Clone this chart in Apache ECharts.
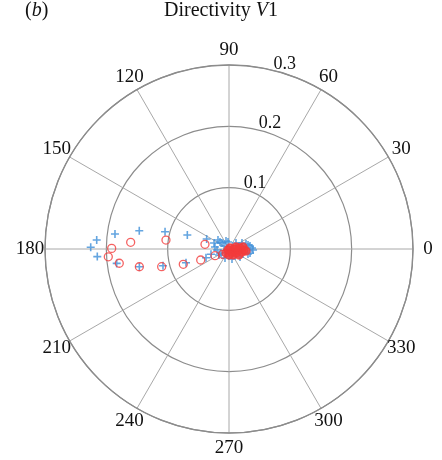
<!DOCTYPE html>
<html>
<head>
<meta charset="utf-8">
<script src="https://cdn.jsdelivr.net/npm/echarts@6/dist/echarts.min.js"></script>
<style>
  html, body { margin: 0; padding: 0; background: #fff; }
  #chart { width: 442px; height: 460px; }
</style>
</head>
<body>
<div id="chart"></div>
<script>
// Angular ticks (degrees) and radial rings
const angleTicks = [0, 30, 60, 90, 120, 150, 180, 210, 240, 270, 300, 330];
const radialTicks = [0.1, 0.2, 0.3];

// Series "+" : [radius, angle in degrees]
const plusPoints = [
  [0.2255, 179.3], [0.2162, 176.1], [0.2151, 183.3],
  [0.1875, 172.5], [0.1846, 187.3],
  [0.1493, 168.5], [0.1490, 191.2],
  [0.1080, 164.9], [0.1110, 194.2],
  [0.0717, 161.4], [0.0736, 197.7],
  [0.0399, 155.8], [0.0401, 200.7], [0.0306, 196.4],
  [0.0263, 158.2], [0.0232, 140.7], [0.0150, 139.4], [0.0139, 110.6],
  [0.0095, 149.0], [0.0346, 8.1], [0.0392, 357.6], [0.0349, 349.2],
  [0.0289, 16.4], [0.0161, 246.0], [0.0170, 286.7], [0.0190, 211.0],
  [0.0222, 324.0], [0.0186, 142.1], [0.0115, 98.1], [0.0150, 40.6],
  [0.0233, 24.8], [0.0317, 11.9], [0.0375, 2.5], [0.0320, 345.3],
  [0.0196, 184.8], [0.0231, 171.9], [0.0146, 206.6]
];

// Series "o" : [radius, angle in degrees]
const circlePoints = [
  [0.1913, 179.7], [0.1972, 183.7], [0.1607, 176.1], [0.1804, 187.4],
  [0.1490, 191.2], [0.1135, 194.7], [0.1038, 171.9], [0.0786, 198.5],
  [0.0399, 168.9], [0.0495, 201.2], [0.0253, 205.6], [0.0134, 220.0]
];

// Series "o", densely overlapping samples near the origin
const circleCorePoints = [
  [0.0082, 233.1], [0.0023, 225.0], [0.0023, 45.0], [0.0069, 315.0],
  [0.0082, 0.0], [0.0131, 330.3], [0.0148, 353.7], [0.0180, 5.2],
  [0.0218, 347.0], [0.0245, 356.2], [0.0118, 303.7], [0.0190, 329.0],
  [0.0098, 270.0], [0.0119, 16.0], [0.0231, 8.1], [0.0279, 353.3]
];

const CENTER = [229, 249];
const RADIUS = 184;
const LABEL_RADIUS = 199;   // ring on which the angle labels are centred
const SERIF = '"Liberation Serif", "Times New Roman", serif';
const gridGray = '#a8a8a8';
const rimGray = '#8c8c8c';
const plusBlue = '#3d8fd8';
const circleRed = '#f23b3b';
const ink = '#111111';

const chart = echarts.init(document.getElementById('chart'), null, { renderer: 'canvas' });

const titleRich = {
  n: { fontFamily: SERIF, fontSize: 20, fontWeight: 'normal', color: ink },
  i: { fontFamily: SERIF, fontSize: 20, fontWeight: 'normal', fontStyle: 'italic', color: ink }
};

chart.setOption({
  animation: false,
  backgroundColor: '#ffffff',
  title: [
    {
      text: '{n|Directivity }{i|V}{n|1}',
      left: 'center',
      top: 0,
      padding: [1, 0, 0, 0],
      textStyle: { fontWeight: 'normal', rich: titleRich }
    },
    {
      text: '{n|(}{i|b}{n|)}',
      left: 25,
      top: 0,
      padding: [1, 0, 0, 0],
      textStyle: { fontWeight: 'normal', rich: titleRich }
    }
  ],
  polar: [
    { center: CENTER, radius: RADIUS },          // data + grid
    { center: CENTER, radius: RADIUS },          // radial tick labels along 76 deg
    { center: CENTER, radius: LABEL_RADIUS }     // angle tick labels, centred
  ],
  angleAxis: [
    {
      polarIndex: 0,
      type: 'value',
      min: 0,
      max: 360,
      interval: 30,
      startAngle: 0,
      clockwise: false,
      axisLine: { show: true, lineStyle: { color: rimGray, width: 1.3 } },
      axisTick: { show: false },
      axisLabel: { show: false },
      splitLine: { show: true, lineStyle: { color: gridGray, width: 1 } }
    },
    {
      polarIndex: 1,
      type: 'value',
      min: 0,
      max: 360,
      startAngle: 76,
      clockwise: false,
      show: false
    },
    {
      polarIndex: 2,
      type: 'value',
      min: 0,
      max: 360,
      startAngle: 0,
      clockwise: false,
      show: false
    }
  ],
  radiusAxis: [
    {
      polarIndex: 0,
      type: 'value',
      min: 0,
      max: 0.3,
      interval: 0.1,
      axisLine: { show: false },
      axisTick: { show: false },
      axisLabel: { show: false },
      splitLine: { show: true, lineStyle: { color: rimGray, width: 1.2 } }
    },
    {
      polarIndex: 1,
      type: 'value',
      min: 0,
      max: 0.3,
      interval: 0.1,
      axisLine: { show: false },
      axisTick: { show: false },
      splitLine: { show: false },
      axisLabel: {
        show: true,
        fontFamily: SERIF,
        fontSize: 18,
        lineHeight: 13,
        color: ink,
        margin: 0,
        align: 'left',
        verticalAlign: 'bottom',
        formatter: v => {
          const t = radialTicks.find(r => Math.abs(r - v) < 1e-9);
          return t === undefined ? '' : t.toFixed(1);
        }
      }
    },
    {
      polarIndex: 2,
      type: 'value',
      min: 0,
      max: 1,
      show: false
    }
  ],
  series: [
    {
      type: 'scatter',
      coordinateSystem: 'polar',
      polarIndex: 0,
      symbol: 'path://M5,0 L5,10 M0,5 L10,5',
      symbolSize: 8,
      itemStyle: { color: 'none', borderColor: plusBlue, borderWidth: 1.6 },
      data: plusPoints,
      z: 2
    },
    {
      type: 'scatter',
      coordinateSystem: 'polar',
      polarIndex: 0,
      symbol: 'circle',
      symbolSize: 8,
      itemStyle: { color: 'rgba(0,0,0,0)', borderColor: circleRed, borderWidth: 1.3 },
      data: circlePoints,
      z: 3
    },
    {
      type: 'scatter',
      coordinateSystem: 'polar',
      polarIndex: 0,
      symbol: 'circle',
      symbolSize: 8,
      itemStyle: { color: circleRed, borderColor: circleRed, borderWidth: 1.3 },
      data: circleCorePoints,
      z: 4
    },
    {
      // angle tick labels, centred on the outer label ring
      type: 'scatter',
      coordinateSystem: 'polar',
      polarIndex: 2,
      silent: true,
      clip: false,
      symbol: 'circle',
      symbolSize: 2,
      itemStyle: { color: 'rgba(255,255,255,0)', borderWidth: 0 },
      label: {
        show: true,
        position: 'inside',
        fontFamily: SERIF,
        fontSize: 19,
        color: ink,
        opacity: 1,
        textBorderWidth: 0,
        textBorderColor: 'transparent',
        formatter: p => String(p.value[1])
      },
      data: angleTicks.map(a => [1, a]),
      z: 5
    }
  ]
});
</script>
</body>
</html>
